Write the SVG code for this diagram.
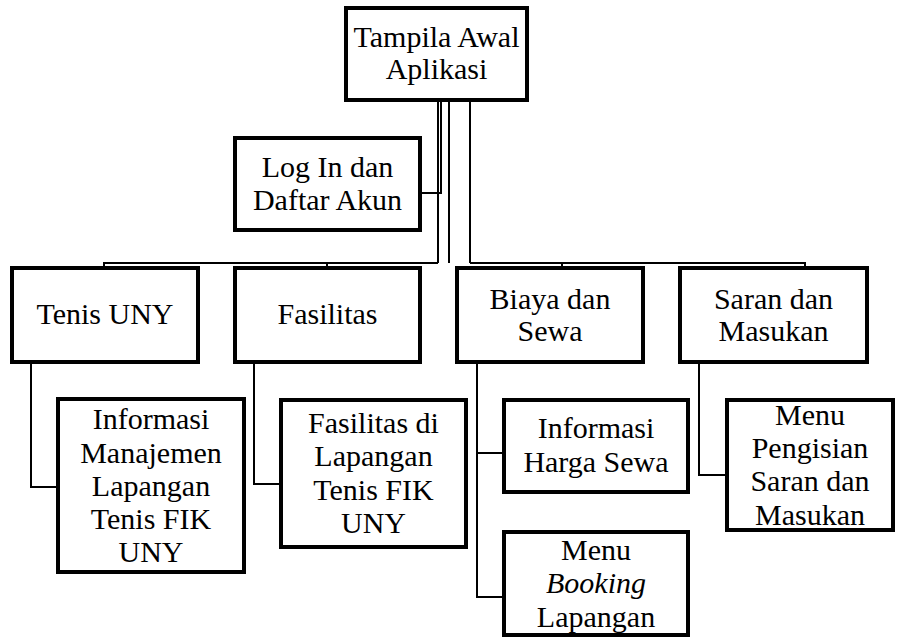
<svg xmlns="http://www.w3.org/2000/svg" width="903" height="637" viewBox="0 0 903 637">
<style>
.box{fill:#fff;stroke:#000;stroke-width:4}
.ln{fill:none;stroke:#000;stroke-width:2}
</style>
<rect width="903" height="637" fill="#fff"/>
<g id="connectors">
<path class="ln" d="M441 100V193H420"/>
<path class="ln" d="M438 100V263"/>
<path class="ln" d="M449 100V263"/>
<path class="ln" d="M470 100V263"/>
<path class="ln" d="M104 268V263H438"/>
<path class="ln" d="M327 268V263"/>
<path class="ln" d="M470 263H805V268"/>
<path class="ln" d="M562 263V268"/>
<path class="ln" d="M31 362V487H58"/>
<path class="ln" d="M254 362V484H281"/>
<path class="ln" d="M477 362V597H504"/>
<path class="ln" d="M477 453H504"/>
<path class="ln" d="M699 362V475H727"/>
</g>
<g id="n-tampilan"><rect class="box" x="346" y="8" width="181" height="92"/><text font-family="Liberation Serif, serif" font-size="30" text-anchor="middle" x="436.5" y="47">Tampila Awal</text><text font-family="Liberation Serif, serif" font-size="30" text-anchor="middle" x="436.5" y="79">Aplikasi</text></g>
<g id="n-login"><rect class="box" x="235" y="138" width="185" height="92"/><text font-family="Liberation Serif, serif" font-size="30" text-anchor="middle" x="327.5" y="177">Log In dan</text><text font-family="Liberation Serif, serif" font-size="30" text-anchor="middle" x="327.5" y="210">Daftar Akun</text></g>
<g id="n-tenis"><rect class="box" x="12" y="268" width="186" height="94"/><text font-family="Liberation Serif, serif" font-size="30" text-anchor="middle" x="105" y="324">Tenis UNY</text></g>
<g id="n-fasilitas"><rect class="box" x="235" y="268" width="185" height="94"/><text font-family="Liberation Serif, serif" font-size="30" text-anchor="middle" x="327.5" y="324">Fasilitas</text></g>
<g id="n-biaya"><rect class="box" x="457" y="268" width="186" height="94"/><text font-family="Liberation Serif, serif" font-size="30" text-anchor="middle" x="550" y="309">Biaya dan</text><text font-family="Liberation Serif, serif" font-size="30" text-anchor="middle" x="550" y="341">Sewa</text></g>
<g id="n-saran"><rect class="box" x="680" y="268" width="187" height="94"/><text font-family="Liberation Serif, serif" font-size="30" text-anchor="middle" x="773.5" y="309">Saran dan</text><text font-family="Liberation Serif, serif" font-size="30" text-anchor="middle" x="773.5" y="341">Masukan</text></g>
<g id="n-info-manajemen"><rect class="box" x="58" y="399" width="186" height="173"/><text font-family="Liberation Serif, serif" font-size="30" text-anchor="middle" x="151" y="429">Informasi</text><text font-family="Liberation Serif, serif" font-size="30" text-anchor="middle" x="151" y="463">Manajemen</text><text font-family="Liberation Serif, serif" font-size="30" text-anchor="middle" x="151" y="496">Lapangan</text><text font-family="Liberation Serif, serif" font-size="30" text-anchor="middle" x="151" y="529">Tenis FIK</text><text font-family="Liberation Serif, serif" font-size="30" text-anchor="middle" x="151" y="562">UNY</text></g>
<g id="n-fasilitas-lapangan"><rect class="box" x="281" y="400" width="185" height="147"/><text font-family="Liberation Serif, serif" font-size="30" text-anchor="middle" x="373.5" y="433">Fasilitas di</text><text font-family="Liberation Serif, serif" font-size="30" text-anchor="middle" x="373.5" y="466">Lapangan</text><text font-family="Liberation Serif, serif" font-size="30" text-anchor="middle" x="373.5" y="500">Tenis FIK</text><text font-family="Liberation Serif, serif" font-size="30" text-anchor="middle" x="373.5" y="533">UNY</text></g>
<g id="n-harga"><rect class="box" x="504" y="400" width="184" height="92"/><text font-family="Liberation Serif, serif" font-size="30" text-anchor="middle" x="596" y="438">Informasi</text><text font-family="Liberation Serif, serif" font-size="30" text-anchor="middle" x="596" y="472">Harga Sewa</text></g>
<g id="n-booking"><rect class="box" x="504" y="532" width="184" height="103"/><text font-family="Liberation Serif, serif" font-size="30" text-anchor="middle" x="596" y="560">Menu</text><text font-family="Liberation Serif, serif" font-size="30" font-style="italic" text-anchor="middle" x="596" y="593">Booking</text><text font-family="Liberation Serif, serif" font-size="30" text-anchor="middle" x="596" y="627">Lapangan</text></g>
<g id="n-pengisian"><rect class="box" x="727" y="400" width="166" height="130"/><text font-family="Liberation Serif, serif" font-size="30" text-anchor="middle" x="810" y="425">Menu</text><text font-family="Liberation Serif, serif" font-size="30" text-anchor="middle" x="810" y="458">Pengisian</text><text font-family="Liberation Serif, serif" font-size="30" text-anchor="middle" x="810" y="491">Saran dan</text><text font-family="Liberation Serif, serif" font-size="30" text-anchor="middle" x="810" y="525">Masukan</text></g>
</svg>
